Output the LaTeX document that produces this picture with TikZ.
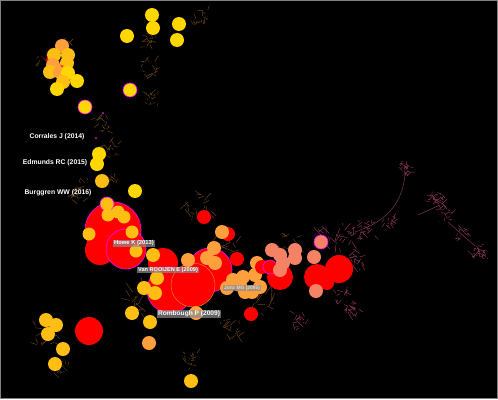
\documentclass[tikz,border=0pt]{standalone}
\usepackage{fontspec}
\setmainfont{Liberation Sans}
\usetikzlibrary{positioning}
\definecolor{nred}{RGB}{255,0,0}
\definecolor{nyel}{RGB}{255,215,0}
\definecolor{ngold}{RGB}{255,190,20}
\definecolor{nora}{RGB}{255,160,60}
\definecolor{nsal}{RGB}{245,130,100}
\definecolor{nring}{RGB}{255,0,255}
\definecolor{webbrown}{RGB}{110,70,25}
\definecolor{webpink}{RGB}{140,55,90}
\tikzset{
    lab/.style={text=white, font=\bfseries\fontsize{6.8}{8}\selectfont, inner sep=1pt},
    boxlab/.style={text=white, font=\bfseries\fontsize{5.8}{7}\selectfont, fill=black!45, fill opacity=0.7, text opacity=1, inner sep=0.8pt},
    web/.style={webbrown, line width=0.45pt},
    pweb/.style={webpink, line width=0.45pt},
}
% a little tangle of citation links
\newcommand{\tangle}[4]{%
  \foreach \k in {1,...,16}{
    \pgfmathsetmacro{\ax}{#1+#3*rand}\pgfmathsetmacro{\ay}{#2+#3*rand}
    \pgfmathsetmacro{\bx}{\ax+#3*0.7*rand}\pgfmathsetmacro{\by}{\ay+#3*0.7*rand}
    \draw[#4] (\ax,\ay) -- (\bx,\by);
  }}
% one cited reference
\newcommand{\refdot}[4]{\fill[#4] (#1,#2) circle (#3);}
\newcommand{\ringdot}[4]{\filldraw[fill=#4, draw=nring, line width=0.6pt] (#1,#2) circle (#3);}

\begin{document}
\begin{tikzpicture}[x=1pt,y=-1pt]
    \useasboundingbox (0,0) rectangle (498,399);
    \fill[black] (0,0) rectangle (498,399);
    \draw[gray, line width=0.8pt] (0.4,0.4) rectangle (497.6,398.6);
    \pgfmathsetseed{11}

    % links
    \tangle{45}{60}{10}{web}
    \tangle{62}{48}{8}{web}
    \tangle{200}{18}{8}{web}
    \tangle{150}{68}{8}{web}
    \tangle{152}{98}{6}{web}
    \tangle{150}{40}{8}{web}
    \tangle{100}{125}{8}{web}
    \tangle{112}{150}{8}{web}
    \tangle{110}{178}{6}{web}
    \tangle{80}{190}{10}{web}
    \tangle{200}{205}{12}{web}
    \tangle{230}{250}{15}{web}
    \tangle{260}{300}{14}{web}
    \tangle{290}{245}{12}{web}
    \tangle{140}{300}{14}{web}
    \tangle{230}{330}{10}{web}
    \tangle{190}{360}{8}{web}
    \tangle{45}{335}{12}{web}
    \tangle{60}{365}{8}{web}
    \tangle{330}{240}{12}{pweb}
    \tangle{350}{235}{10}{pweb}
    \tangle{368}{228}{9}{pweb}
    \tangle{355}{262}{10}{pweb}
    \tangle{345}{300}{10}{pweb}
    \tangle{352}{310}{7}{pweb}
    \tangle{300}{320}{8}{pweb}
    \tangle{405}{168}{6}{pweb}
    \tangle{405}{168}{5}{pweb}
    \tangle{437}{200}{8}{pweb}
    \tangle{437}{200}{6}{pweb}
    \tangle{445}{215}{7}{pweb}
    \tangle{462}{232}{6}{pweb}
    \tangle{480}{252}{7}{pweb}
    \tangle{480}{252}{5}{pweb}
    \tangle{390}{220}{6}{pweb}
    \draw[pweb] (405,175) .. controls (402,205) and (385,222) .. (355,232);
    \draw[pweb] (418,215) -- (440,205);
    \draw[pweb] (448,222) -- (475,246);

    % top yellow group
    \refdot{152}{15}{7}{nyel}
    \refdot{153}{28}{7}{nyel}
    \refdot{179}{24}{7}{nyel}
    \refdot{177}{40}{7}{nyel}
    \refdot{127}{36}{7}{nyel}

    % top-left cluster
    \fill[nred] (49,60) circle (3);
    \foreach \px/\py/\c in {62/46/nora,68/55/ngold,54/55/ngold,53/65/nora,67/63/ngold,50/72/ngold,60/72/nora,68/73/nyel,77/81/nyel,63/82/ngold,57/89/nyel}
        {\refdot{\px}{\py}{7}{\c}}
    \fill[nred] (62,66) circle (1);

    % stem
    \ringdot{130}{90}{7}{nyel}
    \ringdot{85}{107}{7}{nyel}
    \fill[nring] (103,113) circle (1);
    \fill[nring] (96,138) circle (1);
    \refdot{99}{154}{7}{nyel}
    \refdot{97}{164}{7}{nyel}
    \refdot{102}{181}{7}{ngold}
    \refdot{135}{191}{7}{nyel}

    % left red group
    \ringdot{113}{230}{28}{nred}
    \refdot{100}{250}{15}{nred}
    \ringdot{126}{249}{20}{nred}
    \ringdot{107}{204}{7}{ngold}
    \foreach \px/\py in {108/215,118/212,124/217,89/234,132/232,136/251}
        {\refdot{\px}{\py}{6.5}{ngold}}

    % centre group
    \refdot{163}{263}{15}{nred}
    \ringdot{170}{290}{23}{nred}
    \ringdot{210}{270}{22}{nred}
    \refdot{193}{285}{22}{nred}
    \draw[nora, line width=0.3pt] (193,285) circle (22);
    \foreach \px/\py in {153/255,157/278,144/288,155/293,132/313,150/322,191/381}
        {\refdot{\px}{\py}{7}{ngold}}
    \foreach \px/\py in {188/260,207/258,215/263,214/248,196/313,149/343}
        {\refdot{\px}{\py}{7}{nora}}
    \refdot{204}{217}{7}{nred}
    \refdot{228}{234}{7}{nred}
    \refdot{222}{232}{7}{nora}
    \refdot{237}{259}{7}{nred}
    \refdot{251}{314}{7}{nred}

    % Jonz group
    \foreach \px/\py in {233/280,243/277,255/275,260/287,245/292,227/288,252/292,257/263,240/285}
        {\refdot{\px}{\py}{7}{nora}}
    \refdot{280}{277}{13}{nred}
    \refdot{262}{267}{7}{nred}
    \ringdot{270}{267}{7}{nred}
    \foreach \px/\py in {272/250,280/255,295/250,295/258,283/263,280/270}
        {\refdot{\px}{\py}{7}{nsal}}

    % right red group
    \refdot{339}{269}{14}{nred}
    \refdot{317}{277}{13}{nred}
    \refdot{327}{283}{7}{nred}
    \refdot{316}{291}{7}{nsal}
    \refdot{314}{257}{7}{nsal}
    \ringdot{321}{242}{7}{nsal}

    % bottom left
    \refdot{89}{331}{14}{nred}
    \foreach \px/\py in {46/320,56/325,48/334,63/349,55/364}
        {\refdot{\px}{\py}{7}{ngold}}

    % labels
    \node[lab] (corrales) at (57,137) {Corrales J (2014)};
    \node[lab] (edmunds) at (55,163) {Edmunds RC (2015)};
    \node[lab] (burggren) at (58,193) {Burggren WW (2016)};
    \node[boxlab] (howe) at (134,243) {Howe K (2013)};
    \node[boxlab, font=\bfseries\fontsize{5.6}{7}\selectfont] (rooijen) at (168,270) {Van ROOIJEN E (2009)};
    \node[boxlab, font=\bfseries\fontsize{4.9}{6}\selectfont, text=white!85!black] (jonz) at (242,288) {Jonz MG (2005)};
    \node[boxlab, font=\bfseries\fontsize{6.6}{8}\selectfont] (rombough) at (189,314) {Rombough P (2009)};
\end{tikzpicture}
\end{document}
